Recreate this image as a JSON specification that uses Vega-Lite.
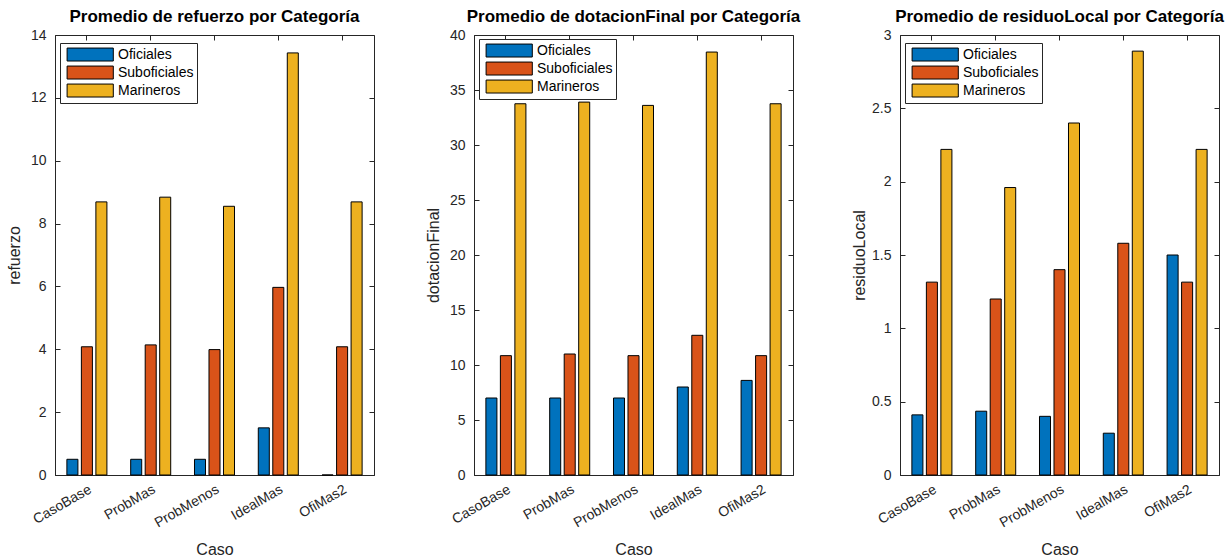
{
  "$schema": "https://vega.github.io/schema/vega-lite/v6.json",
  "padding": {"left": 5, "top": 7, "right": 5, "bottom": 5},
  "background": "white",
  "data": {"values": [
    {"caso": "CasoBase", "cat": "Oficiales", "refuerzo": 0.5, "dotacionFinal": 7.0, "residuoLocal": 0.41},
    {"caso": "CasoBase", "cat": "Suboficiales", "refuerzo": 4.08, "dotacionFinal": 10.85, "residuoLocal": 1.315},
    {"caso": "CasoBase", "cat": "Marineros", "refuerzo": 8.69, "dotacionFinal": 33.75, "residuoLocal": 2.22},
    {"caso": "ProbMas", "cat": "Oficiales", "refuerzo": 0.5, "dotacionFinal": 7.0, "residuoLocal": 0.435},
    {"caso": "ProbMas", "cat": "Suboficiales", "refuerzo": 4.14, "dotacionFinal": 11.0, "residuoLocal": 1.2},
    {"caso": "ProbMas", "cat": "Marineros", "refuerzo": 8.84, "dotacionFinal": 33.9, "residuoLocal": 1.96},
    {"caso": "ProbMenos", "cat": "Oficiales", "refuerzo": 0.5, "dotacionFinal": 7.0, "residuoLocal": 0.4},
    {"caso": "ProbMenos", "cat": "Suboficiales", "refuerzo": 3.99, "dotacionFinal": 10.85, "residuoLocal": 1.4},
    {"caso": "ProbMenos", "cat": "Marineros", "refuerzo": 8.55, "dotacionFinal": 33.6, "residuoLocal": 2.4},
    {"caso": "IdealMas", "cat": "Oficiales", "refuerzo": 1.5, "dotacionFinal": 8.0, "residuoLocal": 0.285},
    {"caso": "IdealMas", "cat": "Suboficiales", "refuerzo": 5.97, "dotacionFinal": 12.7, "residuoLocal": 1.58},
    {"caso": "IdealMas", "cat": "Marineros", "refuerzo": 13.43, "dotacionFinal": 38.45, "residuoLocal": 2.89},
    {"caso": "OfiMas2", "cat": "Oficiales", "refuerzo": 0, "dotacionFinal": 8.6, "residuoLocal": 1.5},
    {"caso": "OfiMas2", "cat": "Suboficiales", "refuerzo": 4.08, "dotacionFinal": 10.85, "residuoLocal": 1.315},
    {"caso": "OfiMas2", "cat": "Marineros", "refuerzo": 8.69, "dotacionFinal": 33.75, "residuoLocal": 2.22}
  ]},
  "spacing": 49,
  "resolve": {"scale": {"color": "independent"}, "legend": {"color": "independent"}},
  "hconcat": [
    {
      "width": 319, "height": 440,
      "title": {"text": "Promedio de refuerzo por Categoría"},
      "layer": [
        {
          "mark": {"type": "bar", "stroke": "black", "strokeWidth": 1},
          "encoding": {
            "x": {"field": "caso", "type": "nominal", "sort": ["CasoBase", "ProbMas", "ProbMenos", "IdealMas", "OfiMas2"], "scale": {"paddingInner": 0, "paddingOuter": 0}, "axis": {"title": "Caso"}},
            "xOffset": {"field": "cat", "type": "nominal", "sort": ["Oficiales", "Suboficiales", "Marineros"], "scale": {"paddingInner": 0.24, "paddingOuter": 0.82}},
            "y": {"field": "refuerzo", "type": "quantitative", "scale": {"domain": [0, 14], "nice": false}, "axis": {"title": "refuerzo", "values": [0, 2, 4, 6, 8, 10, 12, 14], "format": "~g"}},
            "color": {"field": "cat", "type": "nominal", "sort": ["Oficiales", "Suboficiales", "Marineros"], "scale": {"domain": ["Oficiales", "Suboficiales", "Marineros"], "range": ["#0072BD", "#D95319", "#EDB120"]}, "legend": {"title": null, "orient": "none", "legendX": 5, "legendY": 8}}
          }
        },
        {
          "mark": {"type": "point", "opacity": 0},
          "encoding": {
            "x": {"field": "caso", "type": "nominal", "sort": ["CasoBase", "ProbMas", "ProbMenos", "IdealMas", "OfiMas2"], "axis": {"orient": "top", "title": null, "labels": false, "domain": false, "minExtent": 0, "maxExtent": 0}},
            "y": {"field": "refuerzo", "type": "quantitative", "axis": {"orient": "right", "title": null, "labels": false, "domain": false, "minExtent": 0, "maxExtent": 0, "values": [0, 2, 4, 6, 8, 10, 12, 14]}}
          }
        }
      ],
      "resolve": {"axis": {"x": "independent", "y": "independent"}}
    },
    {
      "width": 319, "height": 440,
      "title": {"text": "Promedio de dotacionFinal por Categoría"},
      "layer": [
        {
          "mark": {"type": "bar", "stroke": "black", "strokeWidth": 1},
          "encoding": {
            "x": {"field": "caso", "type": "nominal", "sort": ["CasoBase", "ProbMas", "ProbMenos", "IdealMas", "OfiMas2"], "scale": {"paddingInner": 0, "paddingOuter": 0}, "axis": {"title": "Caso"}},
            "xOffset": {"field": "cat", "type": "nominal", "sort": ["Oficiales", "Suboficiales", "Marineros"], "scale": {"paddingInner": 0.24, "paddingOuter": 0.82}},
            "y": {"field": "dotacionFinal", "type": "quantitative", "scale": {"domain": [0, 40], "nice": false}, "axis": {"title": "dotacionFinal", "values": [0, 5, 10, 15, 20, 25, 30, 35, 40], "format": "~g"}},
            "color": {"field": "cat", "type": "nominal", "sort": ["Oficiales", "Suboficiales", "Marineros"], "scale": {"domain": ["Oficiales", "Suboficiales", "Marineros"], "range": ["#0072BD", "#D95319", "#EDB120"]}, "legend": {"title": null, "orient": "none", "legendX": 5, "legendY": 4}}
          }
        },
        {
          "mark": {"type": "point", "opacity": 0},
          "encoding": {
            "x": {"field": "caso", "type": "nominal", "sort": ["CasoBase", "ProbMas", "ProbMenos", "IdealMas", "OfiMas2"], "axis": {"orient": "top", "title": null, "labels": false, "domain": false, "minExtent": 0, "maxExtent": 0}},
            "y": {"field": "dotacionFinal", "type": "quantitative", "axis": {"orient": "right", "title": null, "labels": false, "domain": false, "minExtent": 0, "maxExtent": 0, "values": [0, 5, 10, 15, 20, 25, 30, 35, 40]}}
          }
        }
      ],
      "resolve": {"axis": {"x": "independent", "y": "independent"}}
    },
    {
      "width": 319, "height": 440,
      "title": {"text": "Promedio de residuoLocal por Categoría"},
      "layer": [
        {
          "mark": {"type": "bar", "stroke": "black", "strokeWidth": 1},
          "encoding": {
            "x": {"field": "caso", "type": "nominal", "sort": ["CasoBase", "ProbMas", "ProbMenos", "IdealMas", "OfiMas2"], "scale": {"paddingInner": 0, "paddingOuter": 0}, "axis": {"title": "Caso"}},
            "xOffset": {"field": "cat", "type": "nominal", "sort": ["Oficiales", "Suboficiales", "Marineros"], "scale": {"paddingInner": 0.24, "paddingOuter": 0.82}},
            "y": {"field": "residuoLocal", "type": "quantitative", "scale": {"domain": [0, 3], "nice": false}, "axis": {"title": "residuoLocal", "values": [0, 0.5, 1, 1.5, 2, 2.5, 3], "format": "~g"}},
            "color": {"field": "cat", "type": "nominal", "sort": ["Oficiales", "Suboficiales", "Marineros"], "scale": {"domain": ["Oficiales", "Suboficiales", "Marineros"], "range": ["#0072BD", "#D95319", "#EDB120"]}, "legend": {"title": null, "orient": "none", "legendX": 5, "legendY": 8}}
          }
        },
        {
          "mark": {"type": "point", "opacity": 0},
          "encoding": {
            "x": {"field": "caso", "type": "nominal", "sort": ["CasoBase", "ProbMas", "ProbMenos", "IdealMas", "OfiMas2"], "axis": {"orient": "top", "title": null, "labels": false, "domain": false, "minExtent": 0, "maxExtent": 0}},
            "y": {"field": "residuoLocal", "type": "quantitative", "axis": {"orient": "right", "title": null, "labels": false, "domain": false, "minExtent": 0, "maxExtent": 0, "values": [0, 0.5, 1, 1.5, 2, 2.5, 3]}}
          }
        }
      ],
      "resolve": {"axis": {"x": "independent", "y": "independent"}}
    }
  ],
  "config": {
    "font": "Liberation Sans",
    "view": {"stroke": "#262626", "strokeWidth": 1},
    "title": {"fontSize": 17, "fontWeight": "bold", "color": "#000000", "offset": 2, "anchor": "middle"},
    "axis": {
      "grid": false,
      "domainColor": "#262626",
      "tickColor": "#262626",
      "labelColor": "#262626",
      "titleColor": "#262626",
      "labelFontSize": 14,
      "titleFontSize": 16,
      "titleFontWeight": "normal",
      "tickSize": -5
    },
    "axisX": {"labelAngle": -30, "labelAlign": "right", "labelBaseline": "top", "labelPadding": 12, "titlePadding": 12},
    "axisY": {"labelPadding": 14, "titlePadding": 8, "minExtent": 25, "maxExtent": 25},
    "legend": {
      "strokeColor": "#262626",
      "fillColor": "white",
      "padding": 3,
      "labelFontSize": 14,
      "labelColor": "#000000",
      "labelBaseline": "alphabetic",
      "symbolType": "M-0.7,-0.87H3.15V0.21H-0.7Z",
      "symbolSize": 576,
      "symbolStrokeColor": "black",
      "symbolStrokeWidth": 1,
      "symbolOpacity": 1,
      "rowPadding": -9,
      "labelOffset": 30
    }
  }
}
